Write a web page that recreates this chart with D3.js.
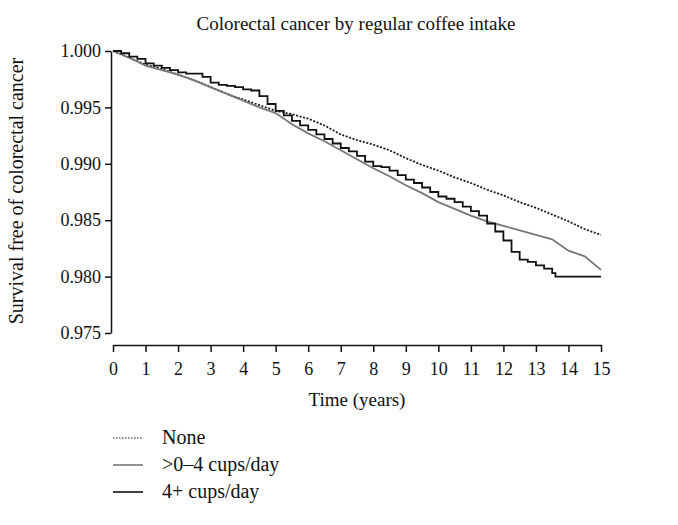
<!DOCTYPE html>
<html><head><meta charset="utf-8">
<script src="https://cdn.jsdelivr.net/npm/d3@7"></script>
<style>body{margin:0;background:#fff}svg{display:block}text{font-family:"Liberation Serif","DejaVu Serif",serif;fill:#111}</style>
</head><body>
<svg id="c" width="678" height="525"></svg>
<script>
const xTicks = [0,1,2,3,4,5,6,7,8,9,10,11,12,13,14,15];
const yTicks = [0.975,0.980,0.985,0.990,0.995,1.000];
const seriesNames = ["None", ">0\u20134 cups/day", "4+ cups/day"];

const noneT = [0,0.5,1,1.5,2,2.5,3,3.5,4,4.5,5,5.5,6,6.5,7,7.5,8,8.5,9,9.5,10,10.5,11,11.5,12,12.5,13,13.5,14,14.5,15];
const noneV = [1.0000,0.9994,0.9988,0.9984,0.9979,0.9974,0.9968,0.9962,0.9957,0.9952,0.9947,0.9944,0.9940,0.9934,0.9926,0.9921,0.9917,0.9912,0.9905,0.9899,0.9894,0.9888,0.9883,0.9877,0.9872,0.9866,0.9861,0.9855,0.9849,0.9842,0.9837];

const midT = [0,0.5,1,1.5,2,2.5,3,3.5,4,4.5,5,5.5,6,6.5,7,7.5,8,8.5,9,9.5,10,10.5,11,11.5,12,12.5,13,13.5,14,14.5,15];
const midV = [1.0000,0.9994,0.9987,0.9983,0.9979,0.9974,0.9968,0.9962,0.9956,0.9950,0.9945,0.9935,0.9927,0.9920,0.9912,0.9904,0.9896,0.9889,0.9881,0.9874,0.9866,0.9860,0.9854,0.9849,0.9845,0.9841,0.9837,0.9833,0.9823,0.9818,0.9806];

const highT = [0,0.25,0.5,0.75,1,1.25,1.5,1.75,2,2.25,2.5,2.75,3,3.25,3.5,3.75,4,4.25,4.5,4.75,5,5.25,5.5,5.75,6,6.25,6.5,6.75,7,7.25,7.5,7.75,8,8.25,8.5,8.75,9,9.25,9.5,9.75,10,10.25,10.5,10.75,11,11.25,11.5,11.75,12,12.25,12.5,12.75,13,13.25,13.5,13.6,15];
const highV = [1.0000,0.9998,0.9995,0.9993,0.9989,0.9987,0.9985,0.9983,0.9981,0.9980,0.9980,0.9977,0.9972,0.9970,0.9969,0.9968,0.9966,0.9965,0.9960,0.9953,0.9947,0.9943,0.9938,0.9934,0.9930,0.9926,0.9922,0.9918,0.9914,0.9911,0.9907,0.9902,0.9898,0.9897,0.9894,0.9890,0.9886,0.9883,0.9879,0.9875,0.9871,0.9869,0.9866,0.9862,0.9858,0.9854,0.9847,0.9840,0.9832,0.9822,0.9815,0.9813,0.9810,0.9807,0.9803,0.9800,0.9800];

const svg = d3.select("#c");
const x = d3.scaleLinear().domain([0,15]).range([113,601]);
const y = d3.scaleLinear().domain([0.975,1]).range([333,51]);

svg.append("text").attr("x",356).attr("y",30).attr("text-anchor","middle")
  .style("font-size","19px").text("Colorectal cancer by regular coffee intake");

const ya = svg.append("g").attr("transform","translate(111,0)")
  .call(d3.axisLeft(y).tickValues(yTicks).tickFormat(d3.format(".3f")).tickSize(6).tickSizeOuter(0));
const xa = svg.append("g").attr("transform","translate(0,345)")
  .call(d3.axisBottom(x).tickValues(xTicks).tickFormat(d3.format("d")).tickSize(7).tickSizeOuter(0));
[ya,xa].forEach(a=>{
  a.selectAll("path,line").attr("stroke","#111").attr("stroke-width",1.5);
  a.selectAll("text").style("font-size","18px").style("font-family","Liberation Serif").attr("fill","#111");
});
ya.selectAll("text").attr("x",-10);
xa.selectAll("text").attr("y",17);

svg.append("text").attr("transform","translate(23,191) rotate(-90)").attr("text-anchor","middle")
  .style("font-size","20px").text("Survival free of colorectal cancer");
svg.append("text").attr("x",357).attr("y",406).attr("text-anchor","middle")
  .style("font-size","19px").text("Time (years)");

const step = d3.line().x(d=>x(d[0])).y(d=>y(d[1])).curve(d3.curveStepAfter);
const lin = d3.line().x(d=>x(d[0])).y(d=>y(d[1]));
const styles = [
  {col:"#1a1a1a", w:1.8, dash:"2,1.6"},
  {col:"#777", w:1.8, dash:null},
  {col:"#111", w:1.8, dash:null}
];
const data = [noneT.map((t,i)=>[t,noneV[i]]), midT.map((t,i)=>[t,midV[i]]), highT.map((t,i)=>[t,highV[i]])];
data.forEach((d,i)=>{
  svg.append("path").attr("d", i===2 ? step(d) : lin(d)).attr("fill","none")
    .attr("stroke",styles[i].col).attr("stroke-width",styles[i].w)
    .attr("stroke-dasharray",styles[i].dash);
});

const lg = svg.append("g");
seriesNames.forEach((n,i)=>{
  const yy = 438 + i*27;
  lg.append("line").attr("x1",113).attr("x2",143).attr("y1",yy).attr("y2",yy)
    .attr("stroke",styles[i].col).attr("stroke-width", i===0?1.2:1.6).attr("stroke-dasharray", i===0?"1.5,1.5":null);
  lg.append("text").attr("x",162).attr("y",yy+6).style("font-size","20px").text(n);
});
</script>
</body></html>
